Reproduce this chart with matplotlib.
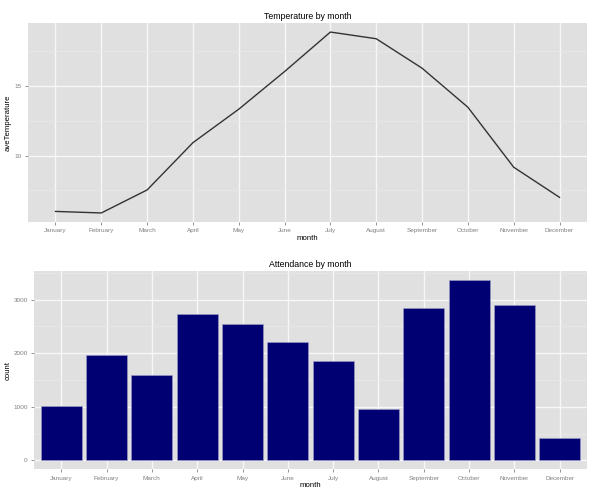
import matplotlib
matplotlib.use("Agg")
import matplotlib.pyplot as plt
from matplotlib.ticker import MultipleLocator
import numpy as np

months = ["January", "February", "March", "April", "May", "June", "July",
          "August", "September", "October", "November", "December"]
ave_temperature = [6.0, 5.89, 7.54, 10.93, 13.33, 16.03, 18.86, 18.38, 16.27, 13.47, 9.17, 7.01]
attendance = [1017, 1964, 1587, 2727, 2541, 2212, 1848, 961, 2838, 3372, 2894, 416]

plt.rcParams['font.family'] = ['Liberation Sans', 'DejaVu Sans']

fig = plt.figure(figsize=(6.0, 4.95), dpi=100)
W, H = 600, 495

def style(ax, major, minor):
    ax.set_facecolor('#E0E0E0')
    for s in ax.spines.values():
        s.set_visible(False)
    ax.yaxis.set_major_locator(MultipleLocator(major))
    ax.yaxis.set_minor_locator(MultipleLocator(minor))
    ax.grid(which='minor', axis='y', color='#E9E9E9', linewidth=0.6)
    ax.grid(which='major', axis='both', color='#F7F7F7', linewidth=1.0)
    ax.set_axisbelow(True)
    ax.tick_params(which='major', labelsize=4.6, labelcolor='#808080', color='#808080',
                   length=2.5, width=0.6, pad=2)
    ax.tick_params(which='minor', length=0)

x = np.arange(len(months))

# Top: temperature line
ax1 = fig.add_axes([28/W, 1-222/H, 559/W, 199/H])
ax1.plot(x, ave_temperature, color='#333333', linewidth=1.0)
ax1.set_xlim(-0.6, 11.6)
lo, hi = min(ave_temperature), max(ave_temperature)
r = hi - lo
ax1.set_ylim(lo - 0.05*r, hi + 0.05*r)
style(ax1, 5, 2.5)
ax1.set_xticks(x)
ax1.set_xticklabels(months)
ax1.set_title("Temperature by month", fontsize=6.3, pad=3)
ax1.set_xlabel("month", fontsize=5.6, labelpad=1)
ax1.set_ylabel("aveTemperature", fontsize=5.6)
ax1.yaxis.set_label_coords((12-28)/559, 0.5)

# Bottom: attendance bars
ax2 = fig.add_axes([34/W, 1-469.3/H, 553/W, 198.6/H])
ax2.bar(x, attendance, width=0.9, color='#000073', edgecolor='#A0A0C8', linewidth=0.4)
ax2.set_xlim(-0.6, 11.6)
mx = max(attendance)
ax2.set_ylim(-0.05*mx, 1.05*mx)
style(ax2, 1000, 500)
ax2.set_xticks(x)
ax2.set_xticklabels(months)
ax2.set_title("Attendance by month", fontsize=6.3, pad=3)
ax2.set_xlabel("month", fontsize=5.6, labelpad=1)
ax2.set_ylabel("count", fontsize=5.6)
ax2.yaxis.set_label_coords((12-34)/553, 0.5)

fig.savefig("out.png", dpi=100, facecolor='white')
